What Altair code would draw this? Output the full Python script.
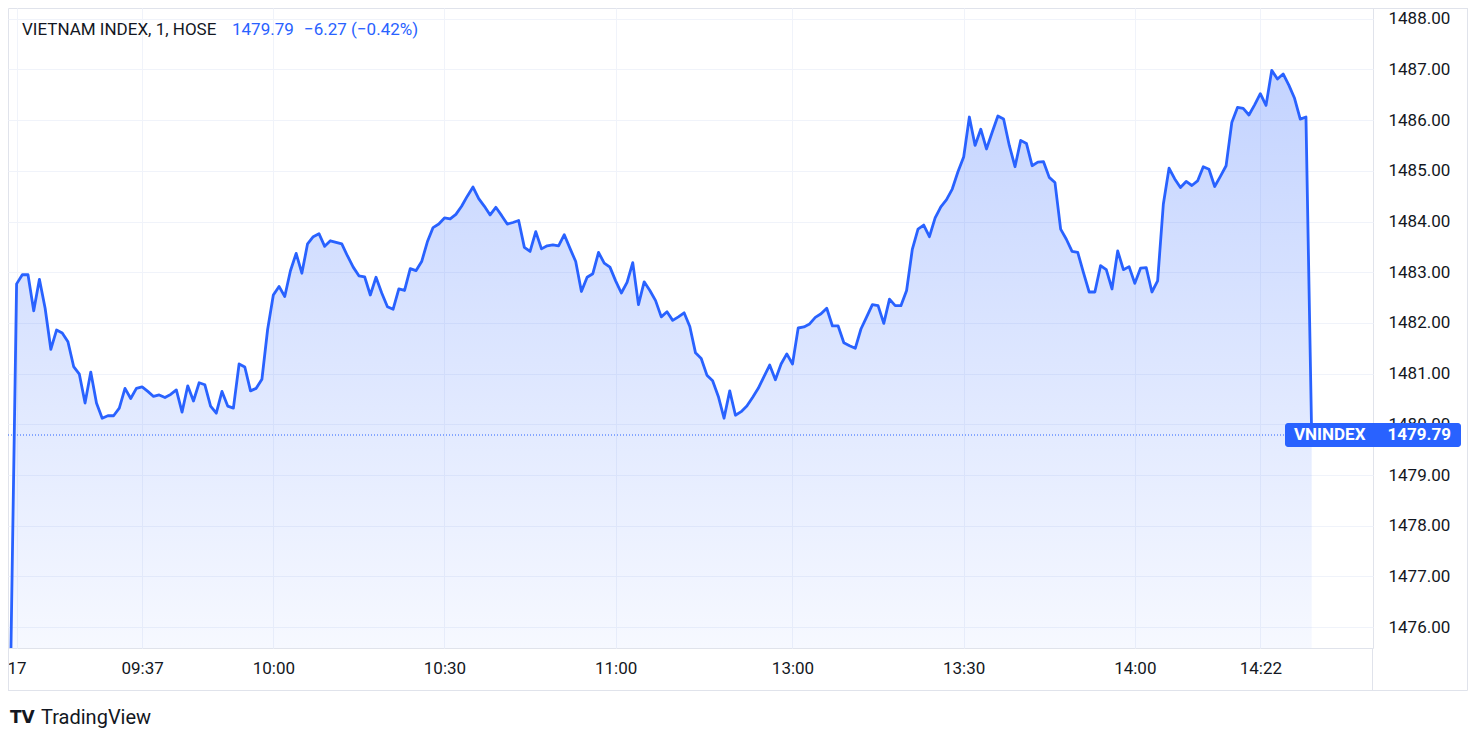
import altair as alt
import pandas as pd

# ---- data (1-minute bars, bar index; 0 = 09:15) ----
morning_prices = [
    1475.50, 1482.77, 1482.95, 1482.95, 1482.24, 1482.86, 1482.29, 1481.48, 1481.86, 1481.80,
    1481.63, 1481.14, 1480.99, 1480.42, 1481.03, 1480.42, 1480.12, 1480.17, 1480.17, 1480.32,
    1480.71, 1480.51, 1480.71, 1480.74, 1480.65, 1480.55, 1480.58, 1480.53, 1480.59, 1480.68,
    1480.24, 1480.76, 1480.46, 1480.82, 1480.78, 1480.36, 1480.22, 1480.65, 1480.36, 1480.32,
    1481.19, 1481.13, 1480.66, 1480.71, 1480.89, 1481.87, 1482.55, 1482.72, 1482.52, 1483.03,
    1483.37, 1482.98, 1483.56, 1483.70, 1483.76, 1483.51, 1483.62, 1483.59, 1483.56, 1483.32,
    1483.10, 1482.93, 1482.91, 1482.55, 1482.90, 1482.59, 1482.32, 1482.27, 1482.67, 1482.64,
    1483.07, 1483.03, 1483.21, 1483.60, 1483.88, 1483.95, 1484.07, 1484.05, 1484.14, 1484.30,
    1484.50, 1484.68, 1484.45, 1484.30, 1484.13, 1484.28, 1484.12, 1483.95, 1483.98, 1484.02,
    1483.49, 1483.41, 1483.80, 1483.46, 1483.52, 1483.54, 1483.52, 1483.74, 1483.47, 1483.21,
    1482.62, 1482.90, 1482.97, 1483.39, 1483.18, 1483.10, 1482.83, 1482.59, 1482.80, 1483.19,
    1482.36, 1482.81, 1482.64, 1482.44, 1482.12, 1482.22, 1482.05, 1482.12, 1482.20, 1481.93,
    1481.41, 1481.30, 1480.97, 1480.86, 1480.55, 1480.12, 1480.66, 1480.18, 1480.25, 1480.36,
    1480.53, 1480.71, 1480.94, 1481.17, 1480.88, 1481.19, 1481.39,
]
afternoon_prices = [
    1481.19, 1481.90, 1481.92, 1481.98, 1482.11, 1482.18, 1482.29, 1481.94, 1481.94, 1481.61,
    1481.55, 1481.50, 1481.88, 1482.12, 1482.36, 1482.34, 1481.99, 1482.47, 1482.34, 1482.34,
    1482.64, 1483.45, 1483.85, 1483.93, 1483.70, 1484.07, 1484.29, 1484.43, 1484.64, 1484.98,
    1485.27, 1486.06, 1485.50, 1485.82, 1485.43, 1485.76, 1486.08, 1486.02, 1485.50, 1485.08,
    1485.60, 1485.54, 1485.10, 1485.17, 1485.18, 1484.87, 1484.77, 1483.85, 1483.65, 1483.41,
    1483.39, 1482.99, 1482.61, 1482.61, 1483.13, 1483.05, 1482.67, 1483.42, 1483.05, 1483.11,
    1482.78, 1483.08, 1483.09, 1482.61, 1482.83, 1484.34, 1485.05, 1484.84, 1484.67, 1484.79,
    1484.71, 1484.80, 1485.08, 1485.03, 1484.69, 1484.89, 1485.10, 1485.95, 1486.25, 1486.23,
    1486.10, 1486.30, 1486.52, 1486.29, 1486.98, 1486.81, 1486.91, 1486.69, 1486.43, 1486.02,
    1486.06, 1479.79,
]
first_bar = -1
tick_bars = [0, 22, 45, 75, 105, 136, 166, 196, 218]
tick_labels = ["17", "09:37", "10:00", "10:30", "11:00", "13:00", "13:30", "14:00", "14:22"]
price_ticks = [1476, 1477, 1478, 1479, 1480, 1481, 1482, 1483, 1484, 1485, 1486, 1487, 1488]
symbol_title = "VIETNAM INDEX, 1, HOSE"
symbol_short = "VNINDEX"
last_price = 1479.79
change = -6.27
change_pct = -0.42

prices = morning_prices + afternoon_prices
df = pd.DataFrame({"bar": list(range(first_bar, first_bar + len(prices))), "price": prices})
one = pd.DataFrame({"k": [0]})

W, H = 1365, 640
x_dom = [-1.507, 237.75]
y_dom = [1475.59, 1488.21]
BLUE = "#2962FF"
INK = "#131722"
BORDER = "#e0e3eb"
GRID = "#f0f3fa"
FONT = "Roboto"
FS = 17

label_expr = ""
for b, l in zip(tick_bars, tick_labels):
    label_expr += f"datum.value == {b} ? '{l}' : "
label_expr += "''"

x_enc = alt.X("bar:Q", scale=alt.Scale(domain=x_dom, nice=False, zero=False),
              axis=alt.Axis(values=tick_bars, labelExpr=label_expr, grid=True, gridColor=GRID,
                            ticks=False, tickSize=0, domain=False, labelFontSize=FS, labelColor=INK,
                            labelFont=FONT, labelPadding=12, labelFlush=False, labelOverlap=False,
                            title=None))
y_enc = alt.Y("price:Q", scale=alt.Scale(domain=y_dom, nice=False, zero=False),
              axis=alt.Axis(orient="right", values=price_ticks, format=".2f", grid=True, gridColor=GRID,
                            ticks=False, tickSize=0, domain=False, labelFontSize=FS, labelColor=INK,
                            labelFont=FONT, labelPadding=15, labelOverlap=False, title=None))

base = alt.Chart(df)
area = base.mark_area(
    clip=True,
    color=alt.Gradient(gradient="linear", x1=0, x2=0, y1=0, y2=1,
                       stops=[alt.GradientStop(color="rgba(41,98,255,0.28)", offset=0),
                              alt.GradientStop(color="rgba(41,98,255,0.04)", offset=1)]),
).encode(x=x_enc, y=y_enc, y2=alt.datum(y_dom[0]))
line = base.mark_line(clip=True, color=BLUE, strokeWidth=2.8, strokeJoin="round").encode(x="bar:Q", y="price:Q")

last_line = alt.Chart(one).mark_rule(color=BLUE, strokeDash=[1, 2], strokeWidth=1).encode(
    y=alt.datum(last_price), x=alt.value(0), x2=alt.value(1277))
badge = alt.Chart(one).mark_rect(color=BLUE, cornerRadius=3, yOffset=-12, y2Offset=12).encode(
    y=alt.datum(last_price), y2=alt.datum(last_price), x=alt.value(1277), x2=alt.value(1453))
badge_name = alt.Chart(one).mark_text(color="white", fontWeight="bold", fontSize=FS, font=FONT,
                                      align="left", baseline="middle").encode(
    y=alt.datum(last_price), x=alt.value(1286), text=alt.value(symbol_short))
badge_price = alt.Chart(one).mark_text(color="white", fontWeight="bold", fontSize=FS, font=FONT,
                                       align="right", baseline="middle").encode(
    y=alt.datum(last_price), x=alt.value(1443), text=alt.value(f"{last_price:.2f}"))

chg_text = f"{change:.2f} ({change_pct:.2f}%)".replace("-", "\u2212")
title_parts = [
    (symbol_title, INK, 14),
    (f"{last_price:.2f}", BLUE, 224),
    (chg_text, BLUE, 296),
]
titles = [
    alt.Chart(one).mark_text(color=c, fontSize=FS, font=FONT, align="left", baseline="middle").encode(
        x=alt.value(px), y=alt.value(22), text=alt.value(t))
    for t, c, px in title_parts
]

# pane borders (outside the plot area)
def hrule(x0, x1, yy):
    return alt.Chart(one).mark_rule(color=BORDER, strokeWidth=1).encode(
        x=alt.value(x0), x2=alt.value(x1), y=alt.value(yy))

def vrule(xx, y0, y1):
    return alt.Chart(one).mark_rule(color=BORDER, strokeWidth=1).encode(
        x=alt.value(xx), y=alt.value(y0), y2=alt.value(y1))

borders = [
    hrule(W, 1459.5, 0.5),
    hrule(0, 1459.5, 682.5),
    vrule(1459.5, 0, 682.5),
    vrule(0.5, H, 682.5),
    vrule(W - 0.5, H, 682.5),
]

logo = alt.Chart(one).mark_text(color=INK, fontSize=17, font="DejaVu Sans", fontWeight=900,
                                align="left", baseline="middle").encode(
    x=alt.value(2), y=alt.value(710), text=alt.value("TV"))
brand = alt.Chart(one).mark_text(color=INK, fontSize=20, font=FONT, align="left", baseline="middle").encode(
    x=alt.value(33), y=alt.value(710), text=alt.value("TradingView"))

chart = alt.layer(area, line, last_line, badge, badge_name, badge_price, *titles, *borders, logo, brand).properties(
    width=W, height=H,
    padding={"left": 0, "top": 0, "right": 96, "bottom": 80},
    autosize=alt.AutoSizeParams(type="none"),
    background="white",
).configure_view(stroke=BORDER, strokeWidth=1)

chart.save("out.html", embed_options={"renderer": "svg", "actions": False})
